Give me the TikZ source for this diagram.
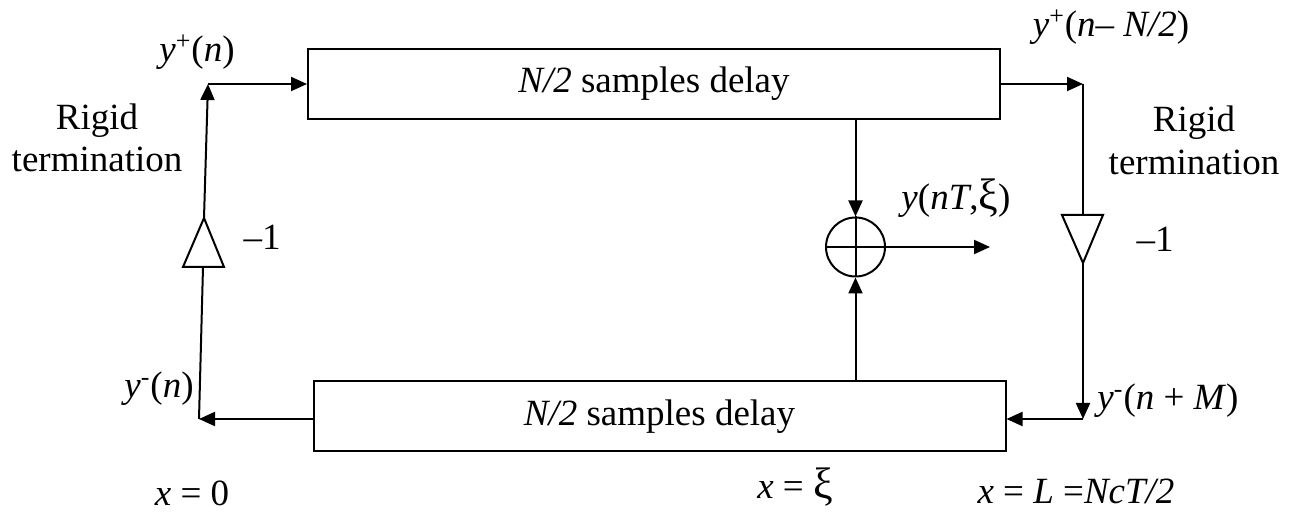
\documentclass[tikz,border=0pt]{standalone}
\usepackage{fontspec}
\setmainfont{Liberation Serif}
\usetikzlibrary{arrows.meta,calc}
\newcommand{\bigxi}{{\fontsize{22}{22}\selectfont ξ}}
\tikzset{
  delaybox/.style={draw,line width=1pt,rectangle,minimum width=346pt,minimum height=35pt,inner sep=0pt},
  sumnode/.style={draw,line width=1pt,circle,minimum size=29.5pt,inner sep=0pt},
  lbl/.style={anchor=base,inner sep=0pt,font=\fontsize{18.5}{22}\selectfont},
  wire/.style={line width=1pt},
  arr/.style={line width=1pt,-{Triangle[length=8pt,width=7pt]}},
  amp/.style={line width=1pt,line join=miter}
}
\begin{document}
\begin{tikzpicture}[x=0.5pt,y=-0.5pt]
\useasboundingbox (0,0) rectangle (1297,513);
% delay boxes
\node[delaybox,font=\fontsize{18.5}{22}\selectfont] (top) at (654,84) {\textit{N/2} samples delay};
\node[delaybox,font=\fontsize{18.5}{22}\selectfont] (bot) at (659.5,416.5) {\textit{N/2} samples delay};
% summing junction
\node[sumnode] (sum) at (855.5,247) {};
\draw[wire] (sum.north) -- (sum.south) (sum.west) -- (sum.east);
\coordinate (out) at (990,247);
% left side coordinates
\coordinate (ly) at (199,419);
\coordinate (lt) at (208,84);
\coordinate (lbase) at (203,267);
\coordinate (lapex) at (204,218);
% right side coordinates
\coordinate (rt) at (1083,84);
\coordinate (rb) at (1083,419);
\coordinate (rtop) at (1083,215);
\coordinate (rapex) at (1083,263);
% amplifier triangles
\draw[amp] (183,267) -- (224,267) -- (lapex) -- cycle;
\draw[amp] (1062,215) -- (1103,215) -- (rapex) -- cycle;
% connectors
\draw[arr] (bot.west |- ly) -- (ly);
\draw[wire] (ly) -- (lbase);
\draw[arr] (lapex) -- (lt);
\draw[arr] (lt) -- (top.west |- lt);
\draw[arr] (top.east |- rt) -- (rt);
\draw[wire] (rt) -- (rtop);
\draw[arr] (rapex) -- (rb);
\draw[arr] (rb) -- (bot.east |- rb);
\draw[arr] (top.south -| sum) -- (sum.north);
\draw[arr] (bot.north -| sum) -- (sum.south);
\draw[arr] (sum.east) -- (out);
% labels
\node[lbl] (lyp) at (197,62) {\textit{y}\textsuperscript{+}(\textit{n})};
\node[lbl] (lym) at (159,398) {\textit{y}\textsuperscript{-}(\textit{n})};
\node[lbl] (lrig1) at (97,130) {Rigid};
\node[lbl] (lrig2) at (97,172) {termination};
\node[lbl] (lg) at (262,250) {–1};
\node[lbl] (lx0) at (192,505) {\textit{x} = 0};
\node[lbl] (ryp) at (1111,37) {\textit{y}\textsuperscript{+}(\textit{n}– \textit{N/2})};
\node[lbl] (rrig1) at (1194,132) {Rigid};
\node[lbl] (rrig2) at (1194,175) {termination};
\node[lbl] (rg) at (1155,252) {–1};
\node[lbl] (rym) at (1168,410) {\textit{y}\textsuperscript{-}(\textit{n} + \textit{M})};
\node[lbl] (yout) at (956,210) {\textit{y}(\textit{nT},\bigxi)};
\node[lbl] (lxi) at (795,498) {\textit{x} = \bigxi};
\node[lbl] (lxl) at (1076,503) {\textit{x} = \textit{L} =\textit{NcT/2}};
\end{tikzpicture}
\end{document}
